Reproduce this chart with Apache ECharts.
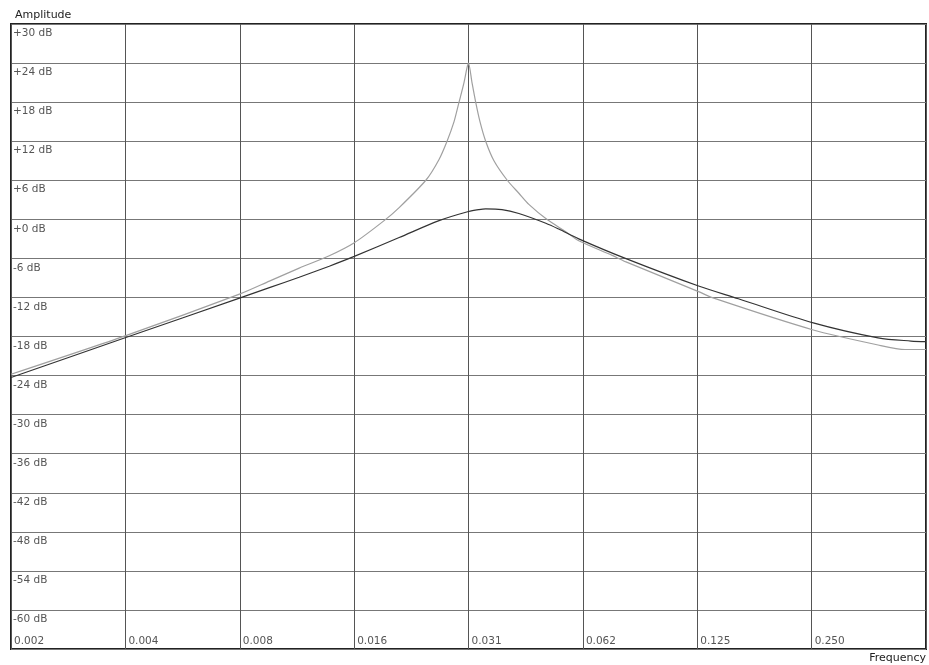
<!DOCTYPE html>
<html>
<head>
<meta charset="utf-8">
<script src="https://cdn.jsdelivr.net/npm/echarts@6/dist/echarts.min.js"></script>
<style>
html, body { margin: 0; padding: 0; background: #fff; }
#main { width: 929px; height: 665px; }
</style>
</head>
<body>
<div id="main"></div>
<script>
// tick labels (x: one per octave, y: every 6 dB from top)
var freqLabels = ['0.002', '0.004', '0.008', '0.016', '0.031', '0.062', '0.125', '0.250', ''];
var dbLabels = {30: '+30 dB', 24: '+24 dB', 18: '+18 dB', 12: '+12 dB', 6: '+6 dB', 0: '+0 dB',
    '-6': '-6 dB', '-12': '-12 dB', '-18': '-18 dB', '-24': '-24 dB', '-30': '-30 dB',
    '-36': '-36 dB', '-42': '-42 dB', '-48': '-48 dB', '-54': '-54 dB', '-60': '-60 dB'};

// resonant curve (light grey)
var resFreq = [0.001953, 0.0039, 0.0078, 0.00935, 0.0112, 0.01344, 0.01564, 0.01874, 0.02053,
    0.02413, 0.02614, 0.02744, 0.02863, 0.02951, 0.03041, 0.03097, 0.03125, 0.03192, 0.03264,
    0.0335, 0.03468, 0.03646, 0.03952, 0.04241, 0.04505, 0.05023, 0.05635, 0.06096, 0.07443,
    0.08086, 0.126, 0.1363, 0.2525, 0.374, 0.4403, 0.5];
var resDb = [-23.8, -17.9, -11.5, -9.5, -7.5, -5.6, -3.6, -0.2, 1.8,
    6, 9.2, 12, 15, 18, 21, 23.3, 24, 21, 18,
    15, 12, 9, 6, 4, 2.3, 0, -1.9, -3.3, -5.5,
    -6.5, -11.1, -12.0, -17.0, -19.3, -20.0, -20.0];

// broad curve (dark)
var broadFreq = [0.001953, 0.0039, 0.0078, 0.00935, 0.0112, 0.01344, 0.01564, 0.02053, 0.02614,
    0.03125, 0.0333, 0.03468, 0.03827, 0.04241, 0.04993, 0.05402, 0.06096, 0.08086, 0.126,
    0.1604, 0.2525, 0.374, 0.4566, 0.5];
var broadDb = [-24.3, -18.2, -12.1, -10.5, -8.9, -7.2, -5.7, -2.8, -0.2,
    1.2, 1.5, 1.6, 1.5, 0.9, -0.6, -1.5, -3.0, -6.0, -10.25,
    -12.2, -15.9, -18.2, -18.7, -18.8];

function pairs(xs, ys) {
    var out = [];
    for (var i = 0; i < xs.length; i++) out.push([xs[i], ys[i]]);
    return out;
}

var font = 'DejaVu Sans';
var myChart = echarts.init(document.getElementById('main'));
var option = {
    animation: false,
    backgroundColor: '#fff',
    grid: {
        left: 11, right: 1, top: 24, bottom: 16,
        show: true, borderColor: '#222', borderWidth: 2, backgroundColor: 'transparent'
    },
    xAxis: {
        type: 'log',
        logBase: 2,
        min: 1 / 512,
        max: 0.5,
        splitNumber: 8,
        name: 'Frequency',
        nameLocation: 'end',
        nameGap: 0,
        nameTextStyle: { fontFamily: font, fontSize: 11, color: '#222', align: 'right', verticalAlign: 'top', padding: [4, 0, 0, 0] },
        axisLine: { show: false, onZero: false },
        axisTick: { show: false },
        splitLine: { show: true, lineStyle: { color: '#555', width: 1 } },
        axisLabel: {
            inside: true,
            margin: 2,
            align: 'left',
            verticalAlign: 'bottom',
            padding: [0, 0, 0, 3],
            fontFamily: font,
            fontSize: 10.5,
            color: '#555',
            showMinLabel: true,
            showMaxLabel: true,
            formatter: function (v) {
                var i = Math.round(Math.log(v) / Math.LN2) + 9;
                return freqLabels[i] || '';
            }
        }
    },
    yAxis: {
        type: 'value',
        min: -66,
        max: 30,
        interval: 6,
        name: 'Amplitude',
        nameLocation: 'end',
        nameGap: 3,
        nameTextStyle: { fontFamily: font, fontSize: 11, color: '#222', align: 'left', verticalAlign: 'bottom', padding: [0, 0, 0, 4] },
        axisLine: { show: false, onZero: false },
        axisTick: { show: false },
        splitLine: { show: true, lineStyle: { color: '#777', width: 1 } },
        axisLabel: {
            inside: true,
            margin: 2,
            align: 'left',
            verticalAlign: 'top',
            padding: [4, 0, 0, 0],
            fontFamily: font,
            fontSize: 10.5,
            color: '#555',
            showMinLabel: true,
            showMaxLabel: true,
            formatter: function (v) {
                return dbLabels[v] || '';
            }
        }
    },
    series: [
        {
            name: 'resonant',
            type: 'line',
            data: pairs(resFreq, resDb),
            showSymbol: false,
            smooth: 0.25,
            lineStyle: { color: '#a0a0a0', width: 1.2 },
            z: 3
        },
        {
            name: 'broad',
            type: 'line',
            data: pairs(broadFreq, broadDb),
            showSymbol: false,
            smooth: 0.3,
            lineStyle: { color: '#333', width: 1.2 },
            z: 4
        }
    ]
};
myChart.setOption(option);
</script>
</body>
</html>
